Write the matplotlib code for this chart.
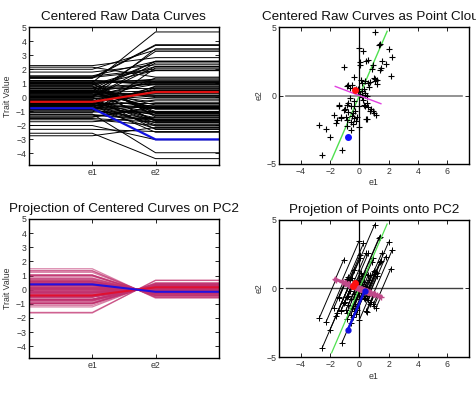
import numpy as np
import matplotlib
matplotlib.use('Agg')
import matplotlib.pyplot as plt

plt.rcParams['font.family'] = ['Liberation Sans', 'DejaVu Sans']

# point cloud (centered trait values)
e1 = [1.05, 1.40, 1.35, -0.02, 0.28, 2.00, 2.26, 1.53, 1.80, 0.46,
      0.62, 0.05, 0.02, -1.07, 0.90, 1.50, 1.42, 0.85, 0.98, 1.20,
      1.10, 2.15, 0.10, -0.38, 0.60, 0.65, 0.35, -0.88, -0.65, -0.50,
      -0.25, -0.10, 0.05, 0.40, 0.50, 0.18, -0.62, -0.40, -1.42, -0.87,
      0.50, 0.32, 0.62, 0.80, 0.96, 1.15, -0.40, -0.30, 0.00, -1.05,
      -0.75, -1.74, -1.23, -1.51, -1.60, -0.91, -0.50, -0.34, -0.23, 0.46,
      -0.87, -0.60, -0.45, 0.00, -2.74, -2.28, -0.82, -0.57, -2.01, -1.19,
      -2.56, 0.16, 0.39, 0.73, 1.07, 1.19, -0.11, 0.16, 0.39, -1.39,
      -0.75, -0.57, -0.98, -0.43, -0.15, 0.39, 0.75, 1.00, 0.50, -1.27,
      -0.80, 0.25]
e2 = [4.66, 3.75, 3.70, 3.46, 3.28, 3.38, 2.83, 2.56, 2.32, 2.56,
      2.58, 2.45, 2.20, 2.10, 2.20, 2.02, 1.90, 1.92, 1.30, 1.12,
      1.22, 1.44, 1.15, 1.38, 0.95, 0.62, 0.45, 0.68, 0.58, 0.75,
      0.50, 0.25, 0.12, 0.05, -0.02, -0.12, -0.20, -0.40, -0.73, -0.66,
      -0.55, -0.72, -0.85, -1.02, -1.15, -1.40, -0.78, -1.10, -0.80, -1.07,
      -1.20, -1.41, -1.56, -1.76, -2.00, -1.56, -1.46, -1.66, -1.83, -1.68,
      -1.80, -1.95, -2.05, -2.29, -2.15, -2.44, -2.24, -2.49, -3.02, -3.95,
      -4.37, 0.93, 1.05, 0.97, 1.05, 0.88, 0.49, 0.30, 0.15, -0.66,
      -0.56, -0.78, -1.00, -1.27, -1.60, -0.80, -1.10, -1.30, -1.71, -1.63,
      0.80, -0.35]

red_pt = [-0.32, 0.38]
blue_pt = [-0.78, -3.00]
pc1 = [0.375, 0.927]          # first principal direction (green)
pc1_half_len = 5.07
trait_names = ['e1', 'e2']

e1 = np.array(e1); e2 = np.array(e2)
u1 = np.array(pc1) / np.linalg.norm(pc1)
u2 = np.array([u1[1], -u1[0]])

GREEN = '#4fe04f'
MAG = '#e040e0'
PINK = '#c0306e'
LBL = '#333333'
TFS = 9.7

fig = plt.figure(figsize=(4.77, 3.94), dpi=100)

def style(ax):
    ax.tick_params(direction='in', length=3, width=0.6, top=True, right=True,
                   labelsize=6.3, labelcolor=LBL, pad=2)
    for s in ax.spines.values():
        s.set_linewidth(1.0)

def curve(ax, a, b, **kw):
    ax.plot([0, 1, 2, 3], [a, a, b, b], **kw)

# ---- top left: raw curves
ax1 = fig.add_axes([0.0608, 0.581, 0.398, 0.350])
for a, b in zip(e1, e2):
    curve(ax1, a, b, color='black', lw=0.7)
curve(ax1, red_pt[0], red_pt[1], color='#e01010', lw=1.6)
curve(ax1, blue_pt[0], blue_pt[1], color='#1010e0', lw=1.6)
ax1.set_xlim(0, 3); ax1.set_ylim(-4.83, 5)
ax1.set_xticks([1, 2]); ax1.set_xticklabels(trait_names)
ax1.set_yticks(range(-4, 6))
ax1.set_ylabel('Trait Value', fontsize=6.3, color=LBL, labelpad=3)
ax1.set_title('Centered Raw Data Curves', fontsize=TFS, pad=5, color='#111111')
style(ax1)

# ---- top right: point cloud
ax2 = fig.add_axes([0.585, 0.584, 0.398, 0.347])
ax2.plot([-5, 7], [0, 0], color='#808080', lw=1.2)
ax2.plot([0, 0], [-5, 5], color='black', lw=0.9)
ax2.plot([-u1[0]*pc1_half_len, u1[0]*pc1_half_len],
         [-u1[1]*pc1_half_len, u1[1]*pc1_half_len], color=GREEN, lw=1.0)
ax2.plot(e1, e2, '+', color='black', ms=5, mew=0.8)
s_all = e1*u2[0] + e2*u2[1]
smin, smax = s_all.min(), s_all.max()
ax2.plot([smin*u2[0], smax*u2[0]], [smin*u2[1], smax*u2[1]], color=MAG, lw=1.0)
ax2.plot(*red_pt, 'o', color='#ff1010', ms=4)
ax2.plot(*blue_pt, 'o', color='#1010ff', ms=4)
ax2.set_xlim(-5.5, 7.5); ax2.set_ylim(-5, 5)
ax2.set_xticks([-4, -2, 0, 2, 4, 6]); ax2.set_yticks([-5, 0, 5])
ax2.set_xlabel('e1', fontsize=6.3, color=LBL, labelpad=2)
ax2.set_ylabel('e2', fontsize=6.3, color=LBL, labelpad=2)
ax2.set_title('Centered Raw Curves as Point Cloud', fontsize=TFS, pad=5, color='#111111')
style(ax2)

# ---- bottom left: projection curves
ax3 = fig.add_axes([0.0608, 0.0914, 0.398, 0.353])
p1 = s_all*u2[0]; p2 = s_all*u2[1]
for a, b in zip(p1, p2):
    curve(ax3, a, b, color=PINK, lw=0.9, alpha=0.6)
rs = red_pt[0]*u2[0] + red_pt[1]*u2[1]
bs = blue_pt[0]*u2[0] + blue_pt[1]*u2[1]
curve(ax3, rs*u2[0], rs*u2[1], color='#e01030', lw=1.5)
curve(ax3, bs*u2[0], bs*u2[1], color='#2010e0', lw=1.5)
ax3.set_xlim(0, 3); ax3.set_ylim(-4.83, 5)
ax3.set_xticks([1, 2]); ax3.set_xticklabels(trait_names)
ax3.set_yticks(range(-4, 6))
ax3.set_ylabel('Trait Value', fontsize=6.3, color=LBL, labelpad=3)
ax3.set_title('Projection of Centered Curves on PC2', fontsize=TFS, pad=5, color='#111111')
style(ax3)

# ---- bottom right: projection of points
ax4 = fig.add_axes([0.585, 0.0939, 0.398, 0.348])
ax4.plot([-5, 7], [0, 0], color='#404040', lw=1.0)
ax4.plot([0, 0], [-5, 5], color='black', lw=0.9)
for x, y, s in zip(e1, e2, s_all):
    ax4.plot([x, s*u2[0]], [y, s*u2[1]], color='black', lw=0.7)
ax4.plot(e1, e2, '+', color='black', ms=4, mew=0.7)
ax4.plot([-u1[0]*pc1_half_len, u1[0]*pc1_half_len],
         [-u1[1]*pc1_half_len, u1[1]*pc1_half_len], color=GREEN, lw=0.9)
ax4.plot(s_all*u2[0], s_all*u2[1], '+', color='#c04a8a', ms=4, mew=1.0)
ax4.plot([smin*u2[0], smax*u2[0]], [smin*u2[1], smax*u2[1]], color='#c04a8a', lw=2.2)
ax4.plot([blue_pt[0], bs*u2[0]], [blue_pt[1], bs*u2[1]], '-o', color='#1010e0', lw=1.8, ms=3.5)
ax4.plot([red_pt[0], rs*u2[0]], [red_pt[1], rs*u2[1]], '-o', color='#ff1010', lw=1.8, ms=4)
ax4.set_xlim(-5.5, 7.5); ax4.set_ylim(-5, 5)
ax4.set_xticks([-4, -2, 0, 2, 4, 6]); ax4.set_yticks([-5, 0, 5])
ax4.set_xlabel('e1', fontsize=6.3, color=LBL, labelpad=2)
ax4.set_ylabel('e2', fontsize=6.3, color=LBL, labelpad=2)
ax4.set_title('Projetion of Points onto PC2', fontsize=TFS, pad=5, color='#111111')
style(ax4)

fig.savefig('out.png', dpi=100)
